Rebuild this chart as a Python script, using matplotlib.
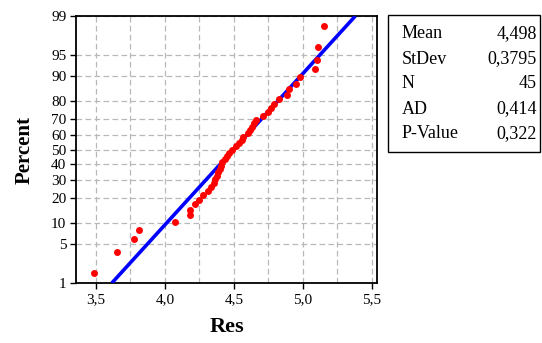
import matplotlib
matplotlib.use('Agg')
import matplotlib.pyplot as plt
import numpy as np
from statistics import NormalDist
from matplotlib.patches import Rectangle

plt.rcParams['font.family'] = ['Liberation Serif', 'DejaVu Serif']

# residuals, sorted
res = [3.482, 3.656, 3.776, 3.813, 4.070, 4.183, 4.185, 4.215, 4.250, 4.279,
       4.309, 4.333, 4.353, 4.365, 4.376, 4.386, 4.396, 4.406, 4.417, 4.434,
       4.449, 4.465, 4.489, 4.512, 4.535, 4.558, 4.566, 4.599, 4.619, 4.635,
       4.645, 4.660, 4.710, 4.744, 4.768, 4.793, 4.825, 4.887, 4.898, 4.953,
       4.983, 5.090, 5.102, 5.110, 5.151]

# summary shown in the box
mean = 4.498
stdev = 0.3795
stat_names = ['Mean', 'StDev', 'N', 'AD', 'P-Value']
stat_values = ['4,498', '0,3795', '45', '0,414', '0,322']

pct_ticks = [1, 5, 10, 20, 30, 40, 50, 60, 70, 80, 90, 95, 99]
x_ticks = [3.5, 4.0, 4.5, 5.0, 5.5]
x_ticklabels = ['3,5', '4,0', '4,5', '5,0', '5,5']

nd = NormalDist()
n = len(res)
ranks = np.arange(1, n + 1)
z_pts = [nd.inv_cdf((i - 0.3) / (n + 0.4)) for i in ranks]

fig = plt.figure(figsize=(5.42, 3.43), dpi=100)
ax = fig.add_axes([0.1402, 0.1749, 0.5554, 0.7784])

# fitted normal line from 1% to 99%
z_lo, z_hi = nd.inv_cdf(0.01), nd.inv_cdf(0.99)
ax.plot([mean + stdev * z_lo, mean + stdev * z_hi], [z_lo, z_hi],
        color='#0000ff', lw=2.6, solid_capstyle='butt', zorder=3)
ax.plot(res, z_pts, 'o', color='#ff0000', ms=5, mec='none', zorder=4)

ax.set_xlim(3.355, 5.538)
ax.set_ylim(z_lo, z_hi)
ax.set_yticks([nd.inv_cdf(p / 100) for p in pct_ticks])
ax.set_yticklabels([str(p) for p in pct_ticks])
ax.set_xticks(x_ticks)
ax.set_xticklabels(x_ticklabels)
ax.set_xticks(np.arange(3.75, 5.5, 0.5), minor=True)

ax.grid(True, which='both', axis='x', color='#b8b8b8', lw=0.9, ls=(0, (4.5, 2.7)))
ax.grid(True, which='major', axis='y', color='#b8b8b8', lw=0.9, ls=(0, (4.5, 2.7)))
ax.set_axisbelow(True)

ax.tick_params(which='major', direction='out', length=4, width=1, labelsize=11, pad=3)
ax.tick_params(which='minor', length=0)
for s in ax.spines.values():
    s.set_linewidth(1.3)

ax.set_xlabel('Res', fontsize=16, fontweight='bold', labelpad=8)
ax.set_ylabel('Percent', fontsize=15, fontweight='bold', labelpad=12)

# stats box
W, H = 542, 343
fig.patches.append(Rectangle((388 / W, 1 - 152 / H), (540 - 388) / W, (152 - 15) / H,
                             transform=fig.transFigure, fill=False, ec='black', lw=1))
row_y = [33.5, 59, 84, 109, 134]
for name, val, y in zip(stat_names, stat_values, row_y):
    fig.text(402 / W, 1 - y / H, name, ha='left', va='center', fontsize=13)
    fig.text(537 / W, 1 - y / H, val, ha='right', va='center', fontsize=13)

fig.savefig('out.png', dpi=100)
